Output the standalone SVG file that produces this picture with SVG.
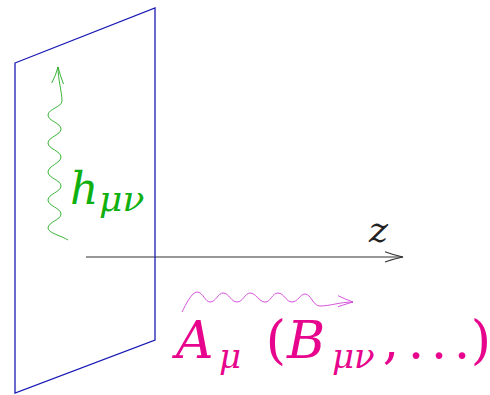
<svg xmlns="http://www.w3.org/2000/svg" width="490" height="395" viewBox="0 0 490 395">
<style>
.plane{fill:none;stroke:#1a1ab4;stroke-width:1.3;stroke-linejoin:miter}
.axis{fill:none;stroke:#333;stroke-width:1.1}
.gw{fill:none;stroke:#22aa22;stroke-width:0.9}
.mw{fill:none;stroke:#d040d8;stroke-width:0.9}
.tx{font-family:'DejaVu Serif',serif}
.it{font-style:italic}
.mid{text-anchor:middle}
.green{fill:#10b010}
.pink{fill:#e6058c}
.black{fill:#222}
</style>
<rect width="490" height="395" fill="#fff"/>
<g id="connectors">
  <g id="z-axis">
    <path class="axis" d="M86,257 H403"/>
    <path class="axis" d="M385,251.7 Q395,255.5 403,257 Q395,258.5 385,262"/>
  </g>
  <g id="graviton-wave">
    <path class="gw" d="M68,240 C62,236 48,233 48,228 C48,222 61,220 61,214 C61,208 48,206 48,200 C48,194 61,192 61,186 C61,180 48,178 48,172 C48,166 61,163 61,157 C61,151 48,149 48,143 C48,137 61,135 61,129 C61,123 48,121 48,115 C48,109 62,107 62,101 C62,92 58,80 58,67"/>
    <path class="gw" d="M51.7,83 Q56,75 58,67 Q60,75 63.5,84"/>
  </g>
  <g id="gauge-wave">
    <path class="mw" d="M182,312 C186,304 192,292 197,292 C203,292 205,302 210,302 C216,302 218,293 223,293 C229,293 231,302 237,302 C243,302 245,293 250,293 C256,293 259,302 265,302 C271,302 272,293 278,293 C284,293 286,302 292,302 C298,302 300,294 305,294 C311,294 313,306 320,306 C330,306 340,302 353,302"/>
    <path class="mw" d="M338,295.7 Q346,299.5 353,302 Q346,304 338,306.7"/>
  </g>
</g>
<g id="brane">
  <polygon class="plane" points="15,63 155,8 155,340 15,393"/>
</g>
<g id="label-h">
  <text class="tx green" font-size="44"><tspan class="it" x="70" y="204">h</tspan><tspan class="it" x="99" y="211" font-size="36">μν</tspan></text>
</g>
<g id="label-z">
  <text class="tx black it" x="369" y="242" font-size="36">z</text>
</g>
<g id="label-A">
  <text class="tx pink" font-size="52"><tspan class="it" x="176" y="358">A</tspan><tspan class="it" x="219" y="368" font-size="34">μ</tspan><tspan class="mid" x="276" y="358">(</tspan><tspan class="it" x="287" y="358">B</tspan><tspan class="it" x="332" y="368" font-size="34">μν</tspan><tspan class="mid" x="391" y="358">,</tspan><tspan class="mid" x="416" y="358">.</tspan><tspan class="mid" x="439" y="358">.</tspan><tspan class="mid" x="462" y="358">.</tspan><tspan class="mid" x="481" y="358">)</tspan></text>
</g>
</svg>
